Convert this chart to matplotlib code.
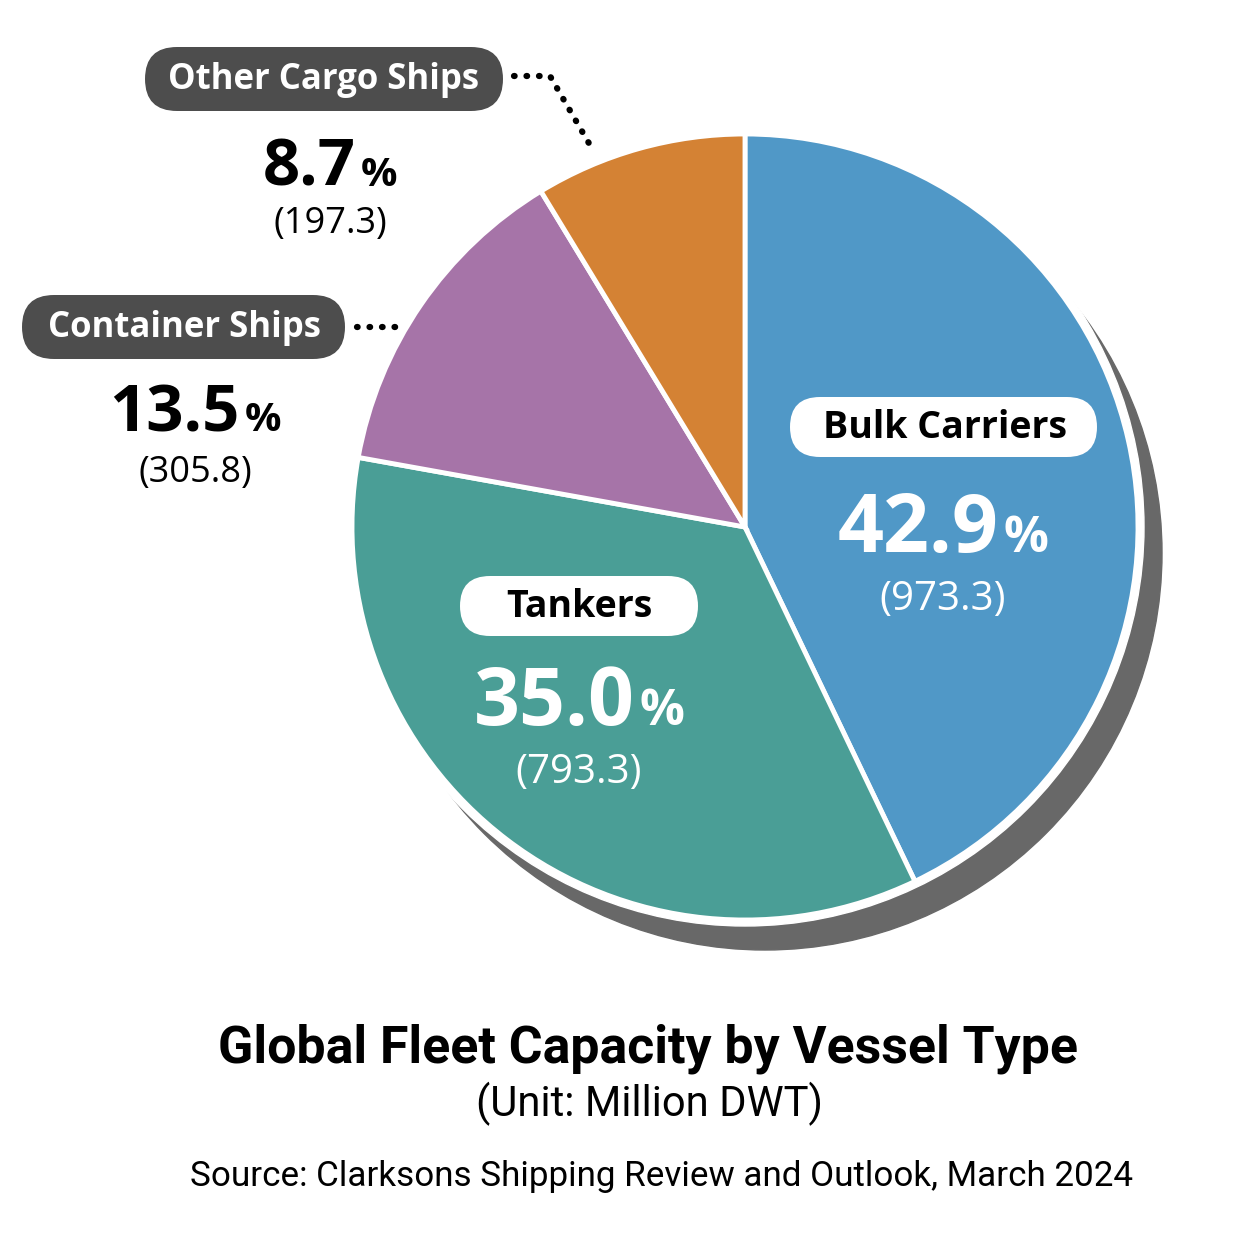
import matplotlib.pyplot as plt
from matplotlib.patches import FancyBboxPatch, Circle
from matplotlib import font_manager

# data
vessel_types = ["Bulk Carriers", "Tankers", "Container Ships", "Other Cargo Ships"]
capacity = [973.3, 793.3, 305.8, 197.3]          # million DWT
shares = [42.9, 35.0, 13.5, 8.7]                 # percent
colors = ["#5098C7", "#4A9E96", "#A674A8", "#D48234"]
title = "Global Fleet Capacity by Vessel Type"
subtitle = "(Unit: Million DWT)"
source = "Source: Clarksons Shipping Review and Outlook, March 2024"

W = H = 1254
fig = plt.figure(figsize=(12.54, 12.54), dpi=100)
ax = fig.add_axes([0, 0, 1, 1])

names = [f.name for f in font_manager.fontManager.ttflist]
FONT = "Open Sans" if "Open Sans" in names else "DejaVu Sans"
TFONT = "Roboto" if "Roboto" in names else FONT


def Y(y):  # pixel row from top -> data y
    return H - y


cx, cy, R = 745, 527, 393

# shadow + white rim
ax.add_patch(Circle((cx + 20, Y(cy + 26)), R + 4, color="#686868", zorder=1))
ax.add_patch(Circle((cx, Y(cy)), R + 6, color="white", zorder=1.5))
ax.pie(capacity, colors=colors, startangle=90, counterclock=False,
       center=(cx, Y(cy)), radius=R, frame=True,
       wedgeprops=dict(edgecolor="white", linewidth=3.5, zorder=2))
ax.set_xlim(0, W)
ax.set_ylim(0, H)
ax.set_aspect("equal")
ax.axis("off")

renderer = fig.canvas.get_renderer()


def pill(x0, x1, yc, h, fc):
    ax.add_patch(FancyBboxPatch((x0 + h / 2, Y(yc)), x1 - x0 - h, 0,
                                boxstyle=f"round,pad={h/2},rounding_size={h/2}",
                                fc=fc, ec="none", zorder=4))


def pct_text(x, y, num, size, color):
    t1 = ax.text(x, Y(y), num, fontsize=size, fontweight="bold", color=color,
                 family=FONT, ha="left", va="baseline", zorder=5)
    t2 = ax.text(x, Y(y), "%", fontsize=size * 0.62, fontweight="bold", color=color,
                 family=FONT, ha="left", va="baseline", zorder=5)
    w1 = t1.get_window_extent(renderer).width
    w2 = t2.get_window_extent(renderer).width
    gap = 5
    total = w1 + gap + w2
    t1.set_x(x - total / 2)
    t2.set_x(x - total / 2 + w1 + gap)


def value_text(x, y, val, size, color):
    ax.text(x, Y(y), f"({val:.1f})", fontsize=size, color=color,
            family=FONT, ha="center", va="baseline", zorder=5)


def fit_text(x, y, s, width, **kw):
    t = ax.text(x, Y(y), s, fontsize=30, ha="center", va="baseline", **kw)
    w = t.get_window_extent(renderer).width
    t.set_fontsize(30 * width / w)
    return t


def dotted(xs, ys):
    ax.plot(xs, [Y(v) for v in ys], color="black", linestyle=(0, (0.1, 1.9)),
            linewidth=4.5, dash_capstyle="round", zorder=3)


# Other Cargo Ships
pill(145, 503, 79, 64, "#4D4D4D")
ax.text(324, Y(80), vessel_types[3], fontsize=25, fontweight="bold", color="white",
        family=FONT, ha="center", va="center", zorder=5)
pct_text(330, 186, f"{shares[3]:.1f}", 47, "black")
value_text(330, 233, capacity[3], 26, "black")
dotted([514, 550, 594], [76, 76, 152])

# Container Ships
pill(22, 345, 327, 64, "#4D4D4D")
ax.text(184, Y(328), vessel_types[2], fontsize=25, fontweight="bold", color="white",
        family=FONT, ha="center", va="center", zorder=5)
pct_text(195, 431, f"{shares[2]:.1f}", 47, "black")
value_text(195, 482, capacity[2], 26, "black")
dotted([357, 400], [327, 327])

# Bulk Carriers
pill(790, 1097, 427, 60, "white")
ax.text(945, Y(428), vessel_types[0], fontsize=27, fontweight="bold", color="black",
        family=FONT, ha="center", va="center", zorder=5)
pct_text(943, 552, f"{shares[0]:.1f}", 58, "white")
value_text(943, 610, capacity[0], 29, "white")

# Tankers
pill(460, 698, 606, 60, "white")
ax.text(579, Y(607), vessel_types[1], fontsize=27, fontweight="bold", color="black",
        family=FONT, ha="center", va="center", zorder=5)
pct_text(579, 725, f"{shares[1]:.1f}", 58, "white")
value_text(579, 783, capacity[1], 29, "white")

# titles
fit_text(648, 1063, title, 860, fontweight="bold", family=TFONT)
fit_text(649, 1116, subtitle, 346, family=TFONT)
fit_text(662, 1186, source, 941, family=TFONT)

fig.savefig("out.png", dpi=100, facecolor="white")
